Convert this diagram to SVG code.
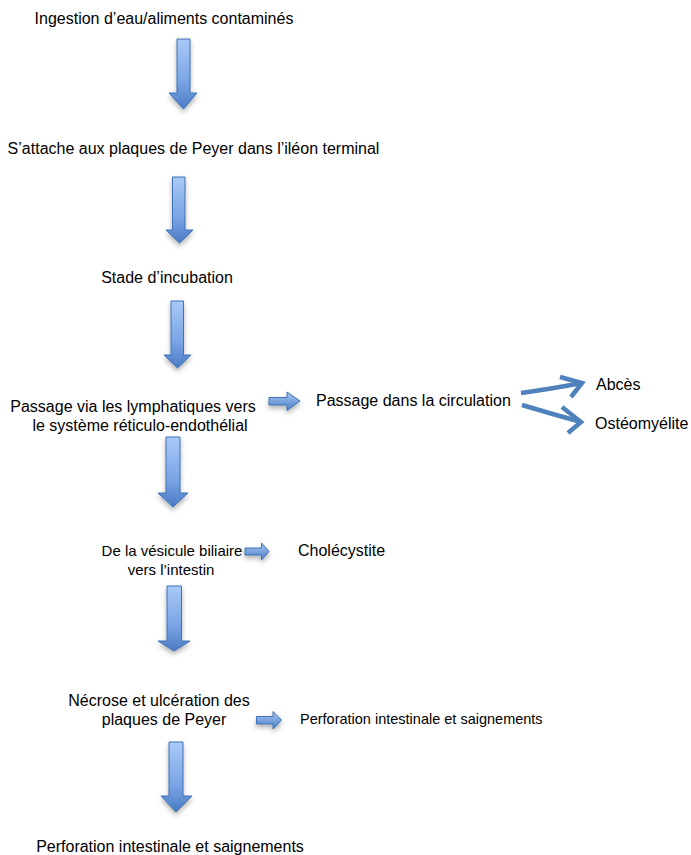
<svg xmlns="http://www.w3.org/2000/svg" width="691" height="855" viewBox="0 0 691 855">
<defs>
<style>
text{font-family:"Liberation Sans",Arial,sans-serif;font-size:16px;fill:#000}
.c{text-anchor:middle}
.s{font-size:15px}
.dn{fill:url(#gv);stroke:#3f72b5;stroke-width:1;filter:url(#sh)}
.rt{fill:url(#gh);stroke:#3f72b5;stroke-width:1;filter:url(#sh)}
.ln{fill:none;stroke:#4f81bd;stroke-width:4.5;stroke-linecap:butt;stroke-linejoin:miter}
</style>
<linearGradient id="gv" x1="0" y1="0" x2="0" y2="1">
<stop offset="0" stop-color="#a9c9f7"/>
<stop offset="0.6" stop-color="#7ba5e6"/>
<stop offset="1" stop-color="#4a7cc4"/>
</linearGradient>
<linearGradient id="gh" x1="0" y1="0" x2="0" y2="1">
<stop offset="0" stop-color="#a9c9f7"/>
<stop offset="1" stop-color="#4a7cc4"/>
</linearGradient>
<filter id="sh" x="-50%" y="-20%" width="200%" height="150%">
<feDropShadow dx="0" dy="3" stdDeviation="2.5" flood-color="#000" flood-opacity="0.3"/>
</filter>
</defs>

<g id="n1"><text class="c" x="164" y="24">Ingestion d’eau/aliments contaminés</text></g>
<g id="n2"><text class="c" x="193.5" y="154">S’attache aux plaques de Peyer dans l’iléon terminal</text></g>
<g id="n3"><text class="c" x="167" y="283">Stade d’incubation</text></g>
<g id="n4"><text class="c" x="133" y="412">Passage via les lymphatiques vers</text><text class="c" x="140" y="431">le système réticulo-endothélial</text></g>
<g id="n5"><text x="316" y="406">Passage dans la circulation</text></g>
<g id="n6"><text x="596" y="390">Abcès</text></g>
<g id="n7"><text x="595" y="429">Ostéomyélite</text></g>
<g id="n8"><text class="c s" x="172" y="556">De la vésicule biliaire</text><text class="c s" x="171" y="575">vers l’intestin</text></g>
<g id="n9"><text x="298" y="556">Cholécystite</text></g>
<g id="n10"><text class="c" x="159" y="706">Nécrose et ulcération des</text><text class="c" x="164" y="725">plaques de Peyer</text></g>
<g id="n11"><text x="300" y="724" style="font-size:14.5px">Perforation intestinale et saignements</text></g>
<g id="n12"><text class="c" x="170" y="852">Perforation intestinale et saignements</text></g>

<g id="connectors">
<path class="dn" d="M177,39 H190 V93 H197 L183.5,109 L169,93 H177 Z"/>
<path class="dn" d="M172.5,177 H185 V230 H193 L179.5,243 L166,230 H172.5 Z"/>
<path class="dn" d="M171,301 H183.5 V355 H191 L177.5,368 L164,355 H171 Z"/>
<path class="dn" d="M166,437 H180 V493 H188 L173,507 L158,493 H166 Z"/>
<path class="dn" d="M167,586 H181.5 V641 H190 L174,651 L158,641 H167 Z"/>
<path class="dn" d="M169,742 H183 V796 H192 L176,812 L161,796 H169 Z"/>
<path class="rt" d="M269,397.5 H287 V392 L300,401 L287,410.5 V405 H269 Z"/>
<path class="rt" d="M245,548 H261.5 V543 L269,551.5 L261.5,560 V555 H245 Z"/>
<path class="rt" d="M256.5,716.5 H273 V711.5 L281.5,720 L273,729 V724 H256.5 Z"/>
<path class="ln" d="M521,393 Q550,389 582,383"/>
<polyline class="ln" points="560,377 582,383 571,397"/>
<path class="ln" d="M522,405 Q552,414 581,422"/>
<polyline class="ln" points="562,407 581,422 568,433"/>
</g>
</svg>
